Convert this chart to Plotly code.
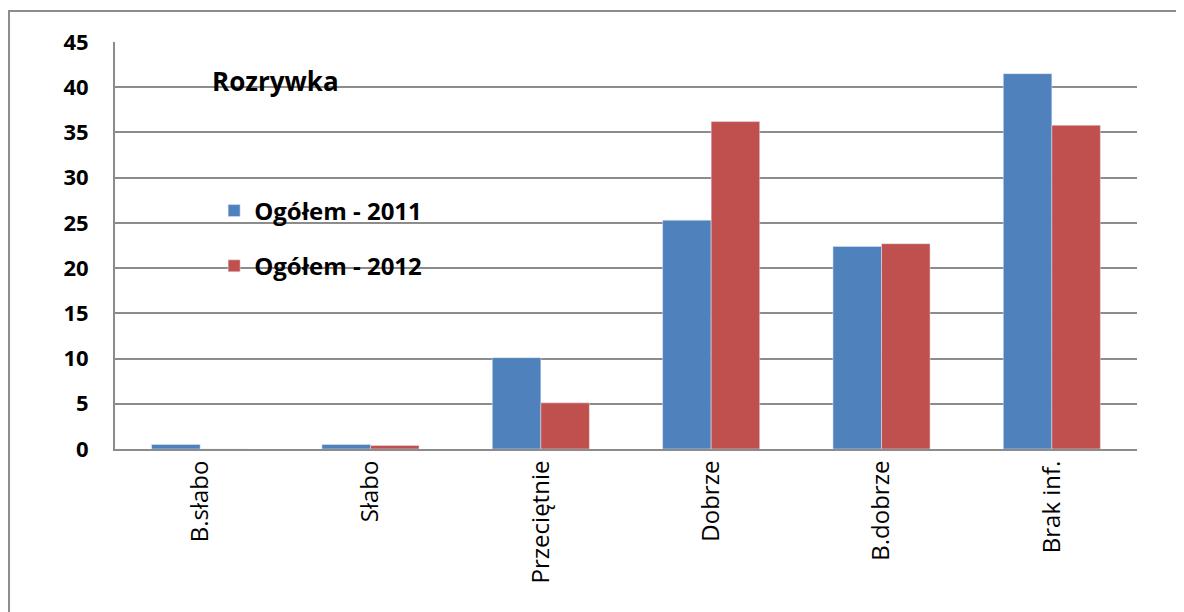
import plotly.graph_objects as go

categories = ['B.słabo', 'Słabo', 'Przeciętnie', 'Dobrze', 'B.dobrze', 'Brak inf.']
ogolem_2011 = [0.5, 0.5, 10.1, 25.3, 22.4, 41.5]
ogolem_2012 = [0.0, 0.4, 5.1, 36.2, 22.7, 35.8]
y_ticks = [0, 5, 10, 15, 20, 25, 30, 35, 40, 45]

FONT = 'Open Sans'
GRID = '#8c8c8c'

fig = go.Figure()
fig.add_trace(go.Bar(x=categories, y=ogolem_2011, name='Ogółem - 2011',
                     marker=dict(color='#4f81bd'), legendgroup='a'))
fig.add_trace(go.Bar(x=categories, y=ogolem_2012, name='Ogółem - 2012',
                     marker=dict(color='#c0504d'), legendgroup='b'))

# page body has an 8px margin, so the margins are shifted to compensate
fig.update_layout(
    width=1184, height=612,
    margin=dict(l=107, r=55, t=34, b=171, autoexpand=False),
    paper_bgcolor='white', plot_bgcolor='white',
    barmode='group', bargap=0.43, bargroupgap=0,
    font=dict(family=FONT, color='black'),
    showlegend=True,
    legend=dict(x=0.097, y=0.64, xanchor='left', yanchor='top',
                font=dict(family=FONT, size=24, color='black', weight='bold'),
                tracegroupgap=21, bgcolor='rgba(0,0,0,0)', itemwidth=30),
    xaxis=dict(showline=True, linecolor=GRID, linewidth=2, tickangle=-90,
               tickfont=dict(family=FONT, size=24), ticks='', automargin=False),
    yaxis=dict(range=[0, 45], tickvals=y_ticks, showgrid=True, gridcolor=GRID,
               gridwidth=2, showline=True, linecolor=GRID, linewidth=2,
               ticks='', ticklabelstandoff=20, zeroline=False, automargin=False,
               tickfont=dict(family=FONT, size=22, weight='bold')),
    annotations=[dict(text='Rozrywka', xref='paper', yref='paper', x=0.093, y=0.905,
                      xanchor='left', yanchor='middle', showarrow=False,
                      font=dict(family=FONT, size=26, weight='bold', color='black'))],
    shapes=[dict(type='rect', xref='paper', yref='paper',
                 x0=-0.1037, x1=1.2, y0=-0.6, y1=1.0762,
                 line=dict(color=GRID, width=2), layer='below')],
)

fig.write_html('out.html')
